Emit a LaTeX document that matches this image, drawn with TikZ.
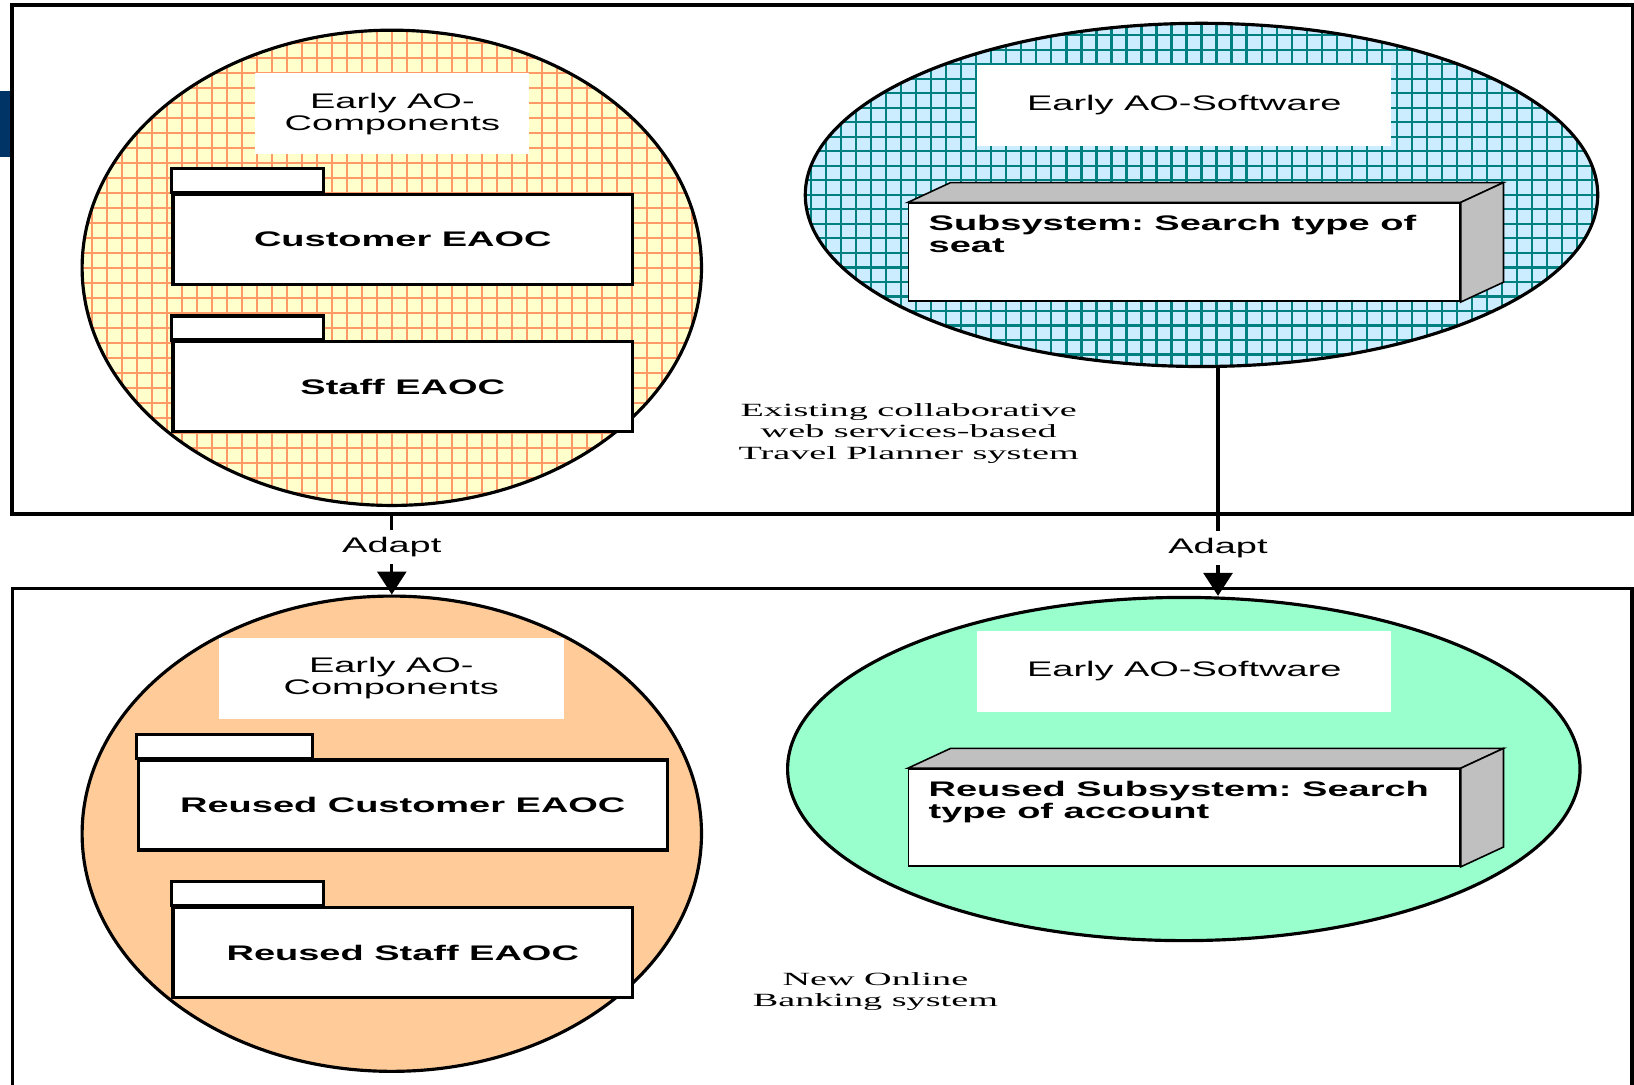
\documentclass[tikz,border=0pt]{standalone}
\usepackage{fontspec}
\usepackage{xcolor}
\usetikzlibrary{shapes.geometric,arrows.meta}
\newfontfamily\widesans[FakeStretch=1.8]{Liberation Sans}
\newfontfamily\wideserif[FakeStretch=2.05]{Liberation Serif}
\definecolor{gridorange}{HTML}{FF9966}
\definecolor{paleyellow}{HTML}{FFFFCC}
\definecolor{gridteal}{HTML}{008080}
\definecolor{palecyan}{HTML}{CCECFF}
\definecolor{peach}{HTML}{FFCC99}
\definecolor{mint}{HTML}{99FFCC}
\definecolor{boxgray}{HTML}{C0C0C0}
\definecolor{navyblue}{HTML}{003366}
\frenchspacing

\begin{document}
\begin{tikzpicture}[x=0.01cm, y=-0.01cm]
        % Define styles
        \tikzset{
            system/.style={draw, line width=0.9pt},
            component/.style={ellipse, draw, line width=0.9pt, inner sep=0pt, minimum width=6.19cm, minimum height=4.75cm},
            software/.style={ellipse, draw, line width=0.9pt, inner sep=0pt, minimum width=7.92cm, minimum height=3.43cm},
            orangegrid/.style={fill=paleyellow, path picture={\draw[gridorange, line width=0.6pt] (path picture bounding box.south west) grid[xstep=0.15cm, ystep=0.15cm] (path picture bounding box.north east);}},
            tealgrid/.style={fill=palecyan, path picture={\draw[gridteal, line width=0.6pt] (path picture bounding box.south west) grid[xstep=0.15cm, ystep=0.145cm] (path picture bounding box.north east);}},
            title/.style={fill=white, inner sep=0pt, minimum height=0.81cm, align=center, font=\widesans\fontsize{6}{6.24}\selectfont},
            package/.style={draw, line width=0.9pt, fill=white, minimum height=0.9cm, font=\widesans\bfseries\fontsize{6}{6.24}\selectfont},
            tab/.style={draw, line width=0.9pt, fill=white},
            subsystem/.style={draw, line width=0.45pt, fill=white, inner xsep=0.2cm, inner ysep=0.12cm, font=\widesans\bfseries\fontsize{6}{6.24}\selectfont},
            face/.style={draw, line width=0.45pt, fill=boxgray},
            caption/.style={align=center, font=\wideserif\fontsize{5.3}{6.2}\selectfont},
            adapt/.style={fill=white, inner sep=2pt, font=\widesans\fontsize{6}{6.24}\selectfont},
            arrow/.style={-{Triangle[width=8.2pt, length=6.5pt]}, line width=0.9pt}
        }
        \useasboundingbox (0,0) rectangle (1634,1084);
        \fill[navyblue] (0,91) rectangle (10.5,157);

        % Existing system
        \node[system, minimum width=16.195cm, minimum height=5.086cm] (system_node_1) at (822.3,259.5) {};
        \node[component, orangegrid] (ellipse_node_1) at (391.8,267.8) {};
        \node[title, minimum width=2.74cm] (title_node_1) at (392.4,113.6) {Early AO-\\Components};
        \node[package, minimum width=4.595cm] (package_node_1) at (402.8,239.2) {Customer EAOC};
        \draw[tab] (package_node_1.north west) rectangle ++(152,-24);
        \node[package, minimum width=4.595cm] (package_node_2) at (402.8,386.6) {Staff EAOC};
        \draw[tab] (package_node_2.north west) rectangle ++(152,-24);

        \node[software, tealgrid] (ellipse_node_2) at (1201.5,194.9) {};
        \node[title, minimum width=4.14cm] (title_node_2) at (1184.3,105.3) {Early AO-Software};
        \node[subsystem] (subsystem_node_1) at (1184.3,252.2) {\parbox[c][0.74cm][t]{5.11cm}{\raggedright Subsystem: Search type of\\seat}};
        \filldraw[face] (subsystem_node_1.north west) -- ++(42.7,-19.8) -- ([shift={(42.7,-19.8)}]subsystem_node_1.north east) -- (subsystem_node_1.north east) -- cycle;
        \filldraw[face] (subsystem_node_1.north east) -- ++(42.7,-19.8) -- ([shift={(42.7,-19.8)}]subsystem_node_1.south east) -- (subsystem_node_1.south east) -- cycle;

        \node[caption] (caption_node_1) at (908.7,433.5) {Existing collaborative\\web services-based\\Travel Planner system};

        % New system
        \draw[system] (12.5,1090) -- (12.5,588.8) -- (1632,588.8) -- (1632,1090);
        \node[component, fill=peach] (ellipse_node_3) at (391.8,833.7) {};
        \node[title, minimum width=3.45cm] (title_node_3) at (391.3,678.4) {Early AO-\\Components};
        \node[package, minimum width=5.284cm] (package_node_3) at (402.8,805) {Reused Customer EAOC};
        \draw[tab] (package_node_3.north west) rectangle ++(176,-24);
        \node[package, minimum width=4.595cm] (package_node_4) at (402.8,952.5) {Reused Staff EAOC};
        \draw[tab] (package_node_4.north west) rectangle ++(152,-24);

        \node[software, fill=mint] (ellipse_node_4) at (1183.8,769) {};
        \node[title, minimum width=4.14cm] (title_node_4) at (1184.3,671.1) {Early AO-Software};
        \node[subsystem] (subsystem_node_2) at (1184.3,817.5) {\parbox[c][0.73cm][t]{5.11cm}{\raggedright Reused Subsystem: Search\\type of account}};
        \filldraw[face] (subsystem_node_2.north west) -- ++(42.7,-19.8) -- ([shift={(42.7,-19.8)}]subsystem_node_2.north east) -- (subsystem_node_2.north east) -- cycle;
        \filldraw[face] (subsystem_node_2.north east) -- ++(42.7,-19.8) -- ([shift={(42.7,-19.8)}]subsystem_node_2.south east) -- (subsystem_node_2.south east) -- cycle;

        \node[caption] (caption_node_2) at (875.4,991.5) {New Online\\Banking system};

        % Arrows
        \coordinate (adapt_right) at (1218,0);
        \draw[arrow] (ellipse_node_3.north |- system_node_1.south) -- node[adapt, pos=0.4] (adapt_node_1) {Adapt} (ellipse_node_3.north);
        \draw[arrow] (ellipse_node_2.south -| adapt_right) -- node[adapt, pos=0.79] (adapt_node_2) {Adapt} (ellipse_node_4.north -| adapt_right);
    \end{tikzpicture}
\end{document}
